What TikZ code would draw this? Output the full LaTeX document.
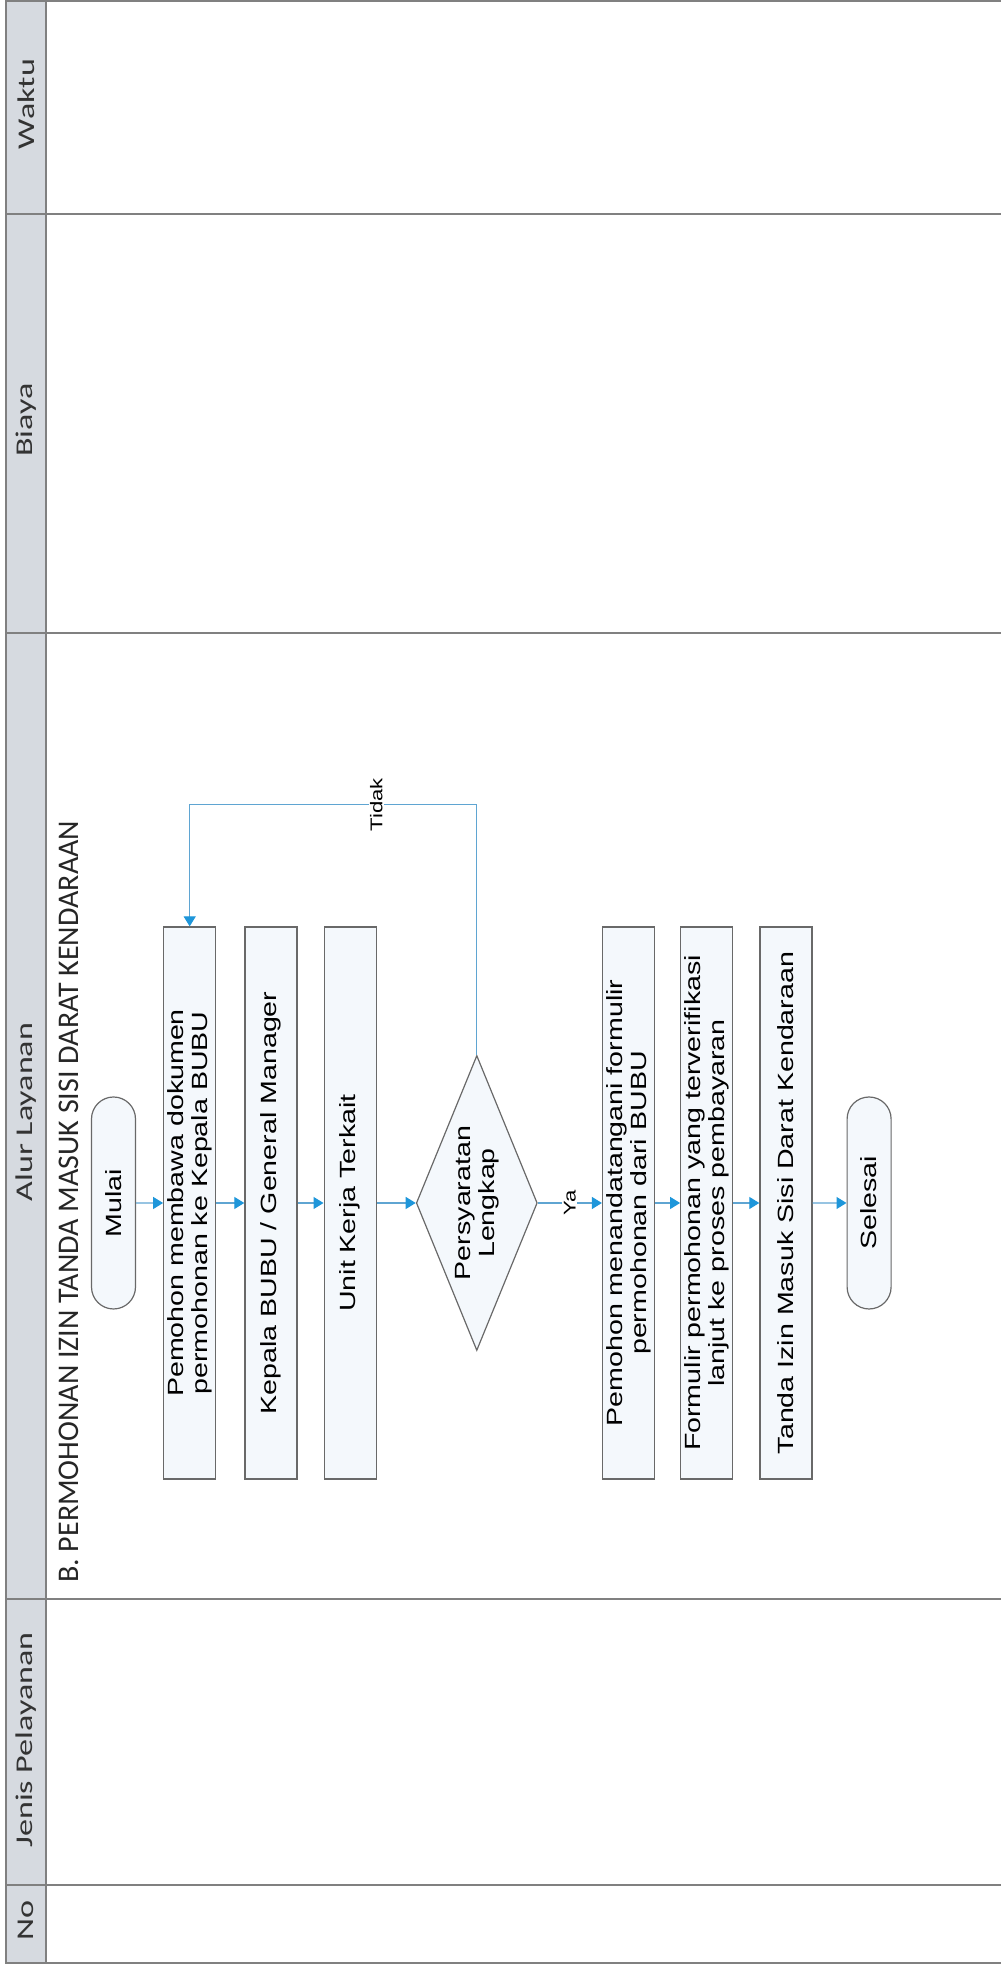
\documentclass[tikz,border=0pt]{standalone}
\usepackage{fontspec}
\setmainfont{Liberation Sans}
\newfontfamily\flowfont[FakeStretch=1.3]{Liberation Sans}
\newfontfamily\headfont[FakeStretch=1.42]{Carlito}
\newfontfamily\titlefont{Carlito}
\usetikzlibrary{
  arrows.meta,
  positioning,
  shapes.geometric,
  shapes.misc,
}
\definecolor{tablegray}{RGB}{128,128,128}
\definecolor{headfill}{RGB}{214,218,224}
\definecolor{boxline}{RGB}{105,105,105}
\definecolor{boxfill}{RGB}{244,248,252}
\definecolor{flowline}{RGB}{95,165,210}
\definecolor{flowtip}{RGB}{30,150,218}
\tikzset{
  >={Triangle[length=10pt,width=12pt,color=flowtip]},
  procbox/.style={rectangle,draw=boxline,fill=boxfill,line width=1.2pt,minimum width=552pt,minimum height=52pt,inner sep=2pt,align=center,font=\flowfont\fontsize{22}{24}\selectfont},
  termbox/.style={rounded rectangle,draw=boxline,fill=boxfill,line width=1.2pt,minimum width=216pt,minimum height=44pt,inner sep=2pt,font=\flowfont\fontsize{22}{24}\selectfont},
  decision/.style={diamond,aspect=2.4,draw=boxline,fill=boxfill,line width=1.2pt,minimum width=295pt,minimum height=121pt,inner sep=0pt,align=center,font=\flowfont\fontsize{22}{24}\selectfont},
  flow/.style={draw=flowline,line width=1.2pt,->},
  flowlabel/.style={fill=white,inner sep=1.5pt,font=\flowfont\fontsize{17}{19}\selectfont},
  tableline/.style={draw=tablegray,line width=1.4pt},
  headlabel/.style={inner sep=0pt,text=black!80,font=\headfont\fontsize{24}{26}\selectfont},
}
\begin{document}
\begin{tikzpicture}[x=1pt,y=1pt,rotate=90,transform shape]

        \useasboundingbox (0,0) rectangle (1966,-1001);

        \fill[headfill] (3,-6) rectangle (1965,-46);
        \draw[tableline] (3,-1001) -- (3,-6) -- (1965,-6) -- (1965,-1001);
        \draw[tableline] (3,-46) -- (1965,-46);
        \foreach \col in {81,367,1333,1752}
          \draw[tableline] (\col,-6) -- (\col,-1001);

        \node[headlabel] (hno)    at (45,-26)   {No};
        \node[headlabel] (hjenis) at (226,-26)  {Jenis Pelayanan};
        \node[headlabel] (halur)  at (854,-26)  {Alur Layanan};
        \node[headlabel] (hbiaya) at (1546,-26) {Biaya};
        \node[headlabel] (hwaktu) at (1862,-26) {Waktu};

        \node[anchor=west,inner sep=0pt,text=black!85,font=\titlefont\fontsize{30}{32}\selectfont] (title) at (383,-69) {B. PERMOHONAN IZIN TANDA MASUK SISI DARAT KENDARAAN};

        \node[termbox] (mulai) at (763,-113.5) {Mulai};
        \node[procbox] (bawa)    [below=27pt of mulai] {Pemohon membawa dokumen\\permohonan ke Kepala BUBU};
        \node[procbox] (kepala)  [below=28pt of bawa]  {Kepala BUBU / General Manager};
        \node[procbox] (unit)    [below=26pt of kepala] {Unit Kerja Terkait};
        \node[decision] (syarat) [below=39pt of unit] {Persyaratan\\Lengkap};
        \node[procbox] (tandatangan) [below=64pt of syarat] {Pemohon menandatangani formulir\\permohonan dari BUBU};
        \node[procbox] (formulir)    [below=25pt of tandatangan] {Formulir permohonan yang terverifikasi\\lanjut ke proses pembayaran};
        \node[procbox] (izin)        [below=26pt of formulir] {Tanda Izin Masuk Sisi Darat Kendaraan};
        \node[termbox] (selesai)     [below=34pt of izin] {Selesai};

        \draw[flow] (mulai) -- (bawa);
        \draw[flow] (bawa) -- (kepala);
        \draw[flow] (kepala) -- (unit);
        \draw[flow] (unit) -- (syarat);
        \draw[flow] (syarat) -- node[flowlabel] {Ya} (tandatangan);
        \draw[flow] (tandatangan) -- (formulir);
        \draw[flow] (formulir) -- (izin);
        \draw[flow] (izin) -- (selesai);
        \draw[flow] (syarat.east) -- ++(250pt,0) coordinate (tidakturn)
          -- (tidakturn |- bawa.east) node[flowlabel,pos=0.35] {Tidak}
          -- (bawa.east);

      \end{tikzpicture}
\end{document}
